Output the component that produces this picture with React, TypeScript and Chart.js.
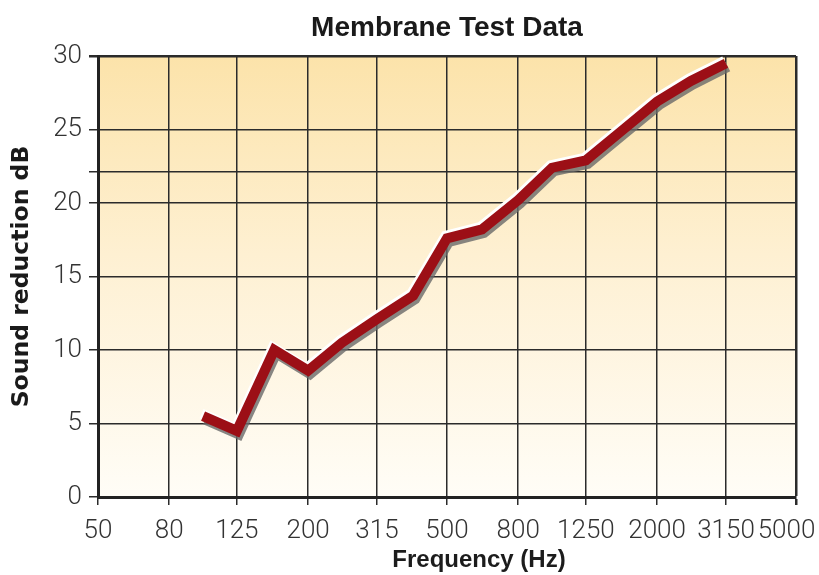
import React, { useEffect, useRef } from 'react';
import { Chart, registerables } from 'chart.js';

Chart.register(...registerables);

// ---- data ----
const chartTitle = 'Membrane Test Data';
const xAxisTitle = 'Frequency (Hz)';
const yAxisTitle = 'Sound reduction dB';

const frequencies = [100, 125, 160, 200, 250, 315, 400, 500, 630, 800, 1000, 1250, 1600, 2000, 2500, 3150];
const soundReduction = [5.5, 4.5, 10.0, 8.6, 10.5, 12.1, 13.7, 17.6, 18.2, 20.2, 22.4, 22.9, 25.0, 26.9, 28.3, 29.5];

const xTickValues = [50, 80, 125, 200, 315, 500, 800, 1250, 2000, 3150, 5000];
const yTickValues = [0, 5, 10, 15, 20, 22.1, 25, 30];
const yLabelledTicks = [0, 5, 10, 15, 20, 25, 30];

export default function App() {
  const canvasRef = useRef<HTMLCanvasElement | null>(null);

  useEffect(() => {
    if (!canvasRef.current) return;
    const points = frequencies.map((f, i) => ({ x: f, y: soundReduction[i] }));

    const bgPlugin = {
      id: 'plotBackground',
      beforeDraw(chart: any) {
        const { ctx, chartArea: a } = chart;
        const g = ctx.createLinearGradient(0, a.top, 0, a.bottom);
        g.addColorStop(0, '#fce3aa');
        g.addColorStop(0.45, '#fef0d2');
        g.addColorStop(1, '#fffdf7');
        ctx.save();
        ctx.fillStyle = g;
        ctx.fillRect(a.left, a.top, a.right - a.left, a.bottom - a.top);
        ctx.restore();
      },
    };

    const shiftPlugin = {
      id: 'shiftLines',
      beforeDatasetDraw(chart: any, args: any) {
        const ds: any = chart.data.datasets[args.index];
        if (ds.shift) {
          chart.ctx.save();
          chart.ctx.translate(ds.shift[0], ds.shift[1]);
        }
      },
      afterDatasetDraw(chart: any, args: any) {
        const ds: any = chart.data.datasets[args.index];
        if (ds.shift) chart.ctx.restore();
      },
    };

    const xTitlePlugin = {
      id: 'xAxisTitle',
      afterDraw(chart: any) {
        const { ctx, chartArea: a } = chart;
        ctx.save();
        ctx.font = 'bold 24px "Liberation Sans", Arial, sans-serif';
        ctx.fillStyle = '#1c1c1c';
        ctx.textAlign = 'center';
        ctx.textBaseline = 'middle';
        ctx.fillText(xAxisTitle, (a.left + a.right) / 2 + 32, a.bottom + 63);
        ctx.restore();
      },
    };

    const lineBase = {
      data: points,
      borderWidth: 10,
      pointRadius: 0,
      pointHoverRadius: 0,
      tension: 0,
      fill: false,
      borderJoinStyle: 'miter',
      borderCapStyle: 'butt',
    };

    const chart = new Chart(canvasRef.current, {
      type: 'line',
      data: {
        datasets: [
          { ...lineBase, label: 'Sound reduction', borderColor: '#9c0f16', order: 0 },
          { ...lineBase, label: 'highlight', borderColor: '#ffffff', order: 1, shift: [-1.5, -2.5] } as any,
          { ...lineBase, label: 'shadow', borderColor: 'rgba(105,105,105,0.8)', order: 2, shift: [2, 3.5] } as any,
        ],
      },
      options: {
        animation: false,
        responsive: true,
        maintainAspectRatio: false,
        layout: { padding: { left: 0, right: 23, top: 0, bottom: 0 } },
        plugins: {
          legend: { display: false },
          tooltip: { enabled: false },
          title: {
            display: true,
            text: chartTitle,
            fullSize: false,
            color: '#1a1a1a',
            font: { family: '"Liberation Sans", Arial, sans-serif', weight: 'bold', size: 28 },
            padding: { top: 11, bottom: 11.4 },
          },
        },
        scales: {
          x: {
            type: 'logarithmic',
            min: 50,
            max: 5000,
            afterBuildTicks: (s: any) => {
              s.ticks = xTickValues.map((v) => ({ value: v }));
            },
            afterFit: (s: any) => {
              s.height = 78;
              s.paddingLeft = 0;
              s.paddingRight = 0;
            },
            ticks: {
              autoSkip: false,
              maxRotation: 0,
              minRotation: 0,
              padding: 11,
              color: '#333333',
              font: { family: 'Roboto, "Liberation Sans", sans-serif', weight: 300, size: 26 },
              callback: (v: any) => (v === xTickValues[xTickValues.length - 1] ? String(v) + '   ' : String(v)),
            },
            grid: {
              color: '#2b2b2b',
              lineWidth: (c: any) => (c.tick && c.tick.value === 5000 ? 2.5 : 1.5),
              tickLength: 8,
            },
            border: { color: '#222222', width: 3 },
          },
          y: {
            type: 'linear',
            min: 0,
            max: 30,
            afterBuildTicks: (s: any) => {
              s.ticks = yTickValues.map((v) => ({ value: v }));
            },
            afterFit: (s: any) => {
              s.width = 98;
            },
            ticks: {
              padding: 7,
              color: '#333333',
              font: { family: 'Roboto, "Liberation Sans", sans-serif', weight: 300, size: 26 },
              callback: (v: any) => (yLabelledTicks.includes(v) ? String(v) : ''),
            },
            grid: {
              color: '#2b2b2b',
              lineWidth: (c: any) => (c.tick && c.tick.value === 30 ? 2.5 : 1.5),
              tickLength: 9,
            },
            border: { color: '#222222', width: 3 },
            title: {
              display: true,
              text: yAxisTitle,
              color: '#1a1a1a',
              font: { family: '"DejaVu Sans", sans-serif', weight: 'bold', size: 23.5 },
              padding: { top: 8, bottom: 0 },
            },
          },
        },
      } as any,
      plugins: [bgPlugin, shiftPlugin, xTitlePlugin],
    });

    return () => chart.destroy();
  }, []);

  return (
    <div style={{ position: 'absolute', left: 0, top: 0, width: 819, height: 575 }}>
      <canvas ref={canvasRef} />
    </div>
  );
}
